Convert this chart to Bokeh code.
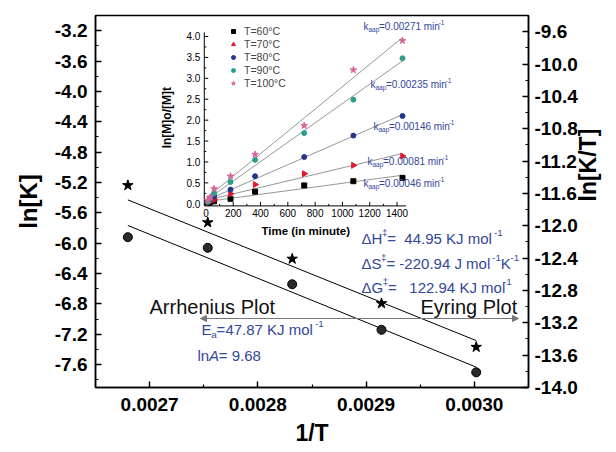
import math
import numpy as np
from bokeh.plotting import figure
from bokeh.models import (Range1d, LinearAxis, FixedTicker, PrintfTickFormatter, Label,
                          Arrow, NormalHead, Legend, LegendItem)
from bokeh.core.properties import value
from bokeh.embed import file_html
from bokeh.resources import INLINE

# ---------------- data (main plot) ----------------
inv_T = [0.0026799, 0.0027537, 0.0028317, 0.0029142, 0.0030017]
ln_K = [-5.92, -6.06, -6.54, -7.14, -7.70]          # Arrhenius (left axis)
ln_K_T = [-11.50, -11.96, -12.41, -12.96, -13.50]   # Eyring (right axis)
eyring_fit_ends = [-11.68, -13.42]                  # drawn Eyring fit line at first/last 1/T

x_ticks = [0.0027, 0.0028, 0.0029, 0.0030]
x_minor = [0.00265, 0.00275, 0.00285, 0.00295, 0.00305]
left_ticks = [-3.2, -3.6, -4.0, -4.4, -4.8, -5.2, -5.6, -6.0, -6.4, -6.8, -7.2, -7.6]
left_minor = [-3.4, -3.8, -4.2, -4.6, -5.0, -5.4, -5.8, -6.2, -6.6, -7.0, -7.4, -7.8]
right_ticks = [-9.6, -10.0, -10.4, -10.8, -11.2, -11.6, -12.0, -12.4, -12.8, -13.2, -13.6, -14.0]
right_minor = [-9.8, -10.2, -10.6, -11.0, -11.4, -11.8, -12.2, -12.6, -13.0, -13.4, -13.8]

# ---------------- data (inset) ----------------
time_min = [15, 30, 60, 180, 360, 720, 1080, 1440]
ln_60 = [0.02, 0.03, 0.06, 0.12, 0.29, 0.44, 0.54, 0.62]
ln_70 = [0.03, 0.06, 0.10, 0.24, 0.46, 0.72, 0.92, 1.14]
ln_80 = [0.04, 0.10, 0.18, 0.34, 0.66, 1.12, 1.63, 2.10]
ln_90 = [0.05, 0.12, 0.25, 0.52, 1.05, 1.69, 2.49, 3.48]
ln_100 = [0.08, 0.16, 0.36, 0.66, 1.18, 1.87, 3.20, 3.90]
series_labels = ["T=60°C", "T=70°C", "T=80°C", "T=90°C", "T=100°C"]
k_labels = ["0.00046", "0.00081", "0.00146", "0.00235", "0.00271"]
inset_y_ticks = [0.0, 0.5, 1.0, 1.5, 2.0, 2.5, 3.0, 3.5, 4.0]
inset_y_minor = [0.25, 0.75, 1.25, 1.75, 2.25, 2.75, 3.25, 3.75]
inset_x_ticks = [0, 200, 400, 600, 800, 1000, 1200, 1400]
inset_x_minor = [100, 300, 500, 700, 900, 1100, 1300]

FONT = "Liberation Sans"
BLUE = "#33479b"
NB = "\u00a0"

# frame in page px: left 95, right 533, top 15, bottom 387
W, H = 616, 452
FL, FR, FT, FB = 95, 533, 15, 387

p = figure(width=W, height=H, output_backend="svg", toolbar_location=None,
           x_range=Range1d(0.00265, 0.00305), y_range=Range1d(-7.9, -3.0),
           min_border_left=FL, min_border_right=W - FR,
           min_border_top=FT, min_border_bottom=H - FB)
p.extra_y_ranges = {"eyr": Range1d(-14.0, -9.4), "ty": Range1d(-4.392, 4.502)}
p.extra_x_ranges = {"tx": Range1d(-809, 2363)}
p.grid.visible = False
p.outline_line_color = "black"
p.outline_line_width = 1.5
p.background_fill_color = "white"
p.border_fill_color = "white"

right = LinearAxis(y_range_name="eyr")
p.add_layout(right, "right")

def style_axis(ax, ticks, minor, fmt, label, standoff, lstandoff, lsize):
    ax.ticker = FixedTicker(ticks=ticks, minor_ticks=minor)
    ax.formatter = PrintfTickFormatter(format=fmt)
    ax.axis_label = label
    ax.axis_label_text_font = FONT
    ax.axis_label_text_font_size = lsize
    ax.axis_label_text_font_style = "bold"
    ax.axis_label_text_color = "black"
    ax.axis_label_standoff = lstandoff
    ax.major_label_text_font = FONT
    ax.major_label_text_font_size = "19px"
    ax.major_label_text_font_style = "bold"
    ax.major_label_text_color = "black"
    ax.major_label_standoff = standoff
    ax.axis_line_width = 1.5
    ax.major_tick_in = 6
    ax.major_tick_out = 0
    ax.minor_tick_in = 3
    ax.minor_tick_out = 0
    ax.major_tick_line_width = 1.5
    ax.minor_tick_line_width = 1.2

style_axis(p.xaxis[0], x_ticks, x_minor, "%.4f", "1/T", 10, 6, "23px")
style_axis(p.yaxis[0], left_ticks, left_minor, "%.1f", "ln[K]", 8, 10, "24px")
style_axis(right, right_ticks, right_minor, "%.1f", "ln[K/T]", 6, 7, "23px")
right.axis_label_orientation = math.pi / 2

# ---------------- main fit lines and markers ----------------
xs_fit = [min(inv_T), max(inv_T)]
a1, b1 = np.polyfit(inv_T, ln_K, 1)
p.line(xs_fit, [a1 * x + b1 for x in xs_fit], line_color="black", line_width=1)
p.line(xs_fit, eyring_fit_ends, line_color="black", line_width=1, y_range_name="eyr")
p.scatter(inv_T, ln_K, marker="circle", size=9, fill_color="#2a2a2a", line_color="black")
p.scatter(inv_T, ln_K_T, marker="star", size=11, fill_color="black", line_color="black",
          y_range_name="eyr")

# ---------------- inset ----------------
IX = dict(x_range_name="tx", y_range_name="ty")
ax_x0, ax_y0 = -12, -0.05
p.segment(x0=[ax_x0], y0=[ax_y0], x1=[ax_x0], y1=[4.1], line_color="black", line_width=1, **IX)
p.segment(x0=[ax_x0], y0=[ax_y0], x1=[1465], y1=[ax_y0], line_color="black", line_width=1, **IX)
p.ray(x=[ax_x0] * len(inset_y_ticks), y=inset_y_ticks, length=4, length_units="screen",
      angle=0, line_color="black", line_width=1, **IX)
p.ray(x=[ax_x0] * len(inset_y_minor), y=inset_y_minor, length=2, length_units="screen",
      angle=0, line_color="black", line_width=1, **IX)
p.ray(x=inset_x_ticks, y=[ax_y0] * len(inset_x_ticks), length=4, length_units="screen",
      angle=math.pi / 2, line_color="black", line_width=1, **IX)
p.ray(x=inset_x_minor, y=[ax_y0] * len(inset_x_minor), length=2, length_units="screen",
      angle=math.pi / 2, line_color="black", line_width=1, **IX)
p.text(x=[ax_x0] * len(inset_y_ticks), y=inset_y_ticks, text=[f"{v:.1f}" for v in inset_y_ticks],
       x_offset=-4, text_align="right", text_baseline="middle", text_font=value(FONT),
       text_font_size="10px", text_color="black", **IX)
p.text(x=inset_x_ticks, y=[ax_y0] * len(inset_x_ticks), text=[str(v) for v in inset_x_ticks],
       y_offset=3, text_align="center", text_baseline="top", text_font=value(FONT),
       text_font_size="10px", text_color="black", **IX)
p.text(x=[731], y=[ax_y0], text=["Time (in minute)"], y_offset=25, text_align="center",
       text_baseline="middle", text_font=value(FONT), text_font_size="11.5px",
       text_font_style="bold", text_color="black", **IX)
p.text(x=[ax_x0], y=[2.06], text=["ln[M]o/[M]t"], x_offset=-37, angle=math.pi / 2,
       text_align="center", text_baseline="middle", text_font=value(FONT),
       text_font_size="12px", text_font_style="bold", text_color="black", **IX)

series = [ln_60, ln_70, ln_80, ln_90, ln_100]
styles = [
    dict(marker="square", size=5, fill_color="black", line_color="black"),
    dict(marker="triangle", size=6, angle=-math.pi / 2, fill_color="#e3172b", line_color="#e3172b"),
    dict(marker="circle", size=5, fill_color="#25358a", line_color="#25358a"),
    dict(marker="circle", size=5, fill_color="#2d9d8c", line_color="#2d9d8c"),
    dict(marker="star", size=7, fill_color="#d6669c", line_color="#d6669c"),
]
t_line = [0, max(time_min)]
renderers = []
for ys, st in zip(series, styles):
    a, b = np.polyfit(time_min, ys, 1)
    p.line(t_line, [a * t + b for t in t_line], line_color="#8a8a8a", line_width=0.9, **IX)
for ys, st in zip(series, styles):
    renderers.append(p.scatter(time_min, ys, **st, **IX))

legend = Legend(items=[LegendItem(label=l, renderers=[r]) for l, r in zip(series_labels, renderers)],
                location=(133, 298), border_line_color=None, background_fill_alpha=0,
                label_text_font=FONT, label_text_font_size="10.5px", glyph_width=10,
                glyph_height=10, label_height=10, spacing=1, padding=0, margin=0,
                label_standoff=6)
p.add_layout(legend)

# ---------------- rich text helper ----------------
W_REG = {'0': .556, '1': .556, '2': .556, '3': .556, '4': .556, '5': .556, '6': .556,
         '7': .556, '8': .556, '9': .556, '.': .278, ' ': .278, NB: .278, '=': .584, '-': .333,
         'k': .5, 'a': .556, 'p': .556, 'm': .833, 'i': .222, 'n': .556, 'K': .667,
         'J': .5, 'o': .556, 'l': .222, 'Δ': .668, 'H': .722, 'S': .667, 'G': .778,
         '‡': .556, 'E': .667, 'A': .667}

def tw(s, fs):
    return sum(W_REG.get(c, .556) for c in s) * fs * 0.98

def rich(px, py, parts, size, color=BLUE):
    x = px - FL
    y = FB - py
    for txt, kind in parts:
        fs = size if kind in ("n", "i") else size * 0.65
        dy = 0
        if kind == "sup":
            dy = size * 0.38
        elif kind == "sub":
            dy = -size * 0.32
        p.add_layout(Label(x=x, y=y + dy, x_units="screen", y_units="screen", text=txt,
                           text_font=FONT, text_font_size=f"{fs:.1f}px",
                           text_font_style="italic" if kind == "i" else "normal",
                           text_color=color, text_align="left", text_baseline="middle"))
        x += tw(txt, fs)

# inset rate-constant labels
k_pos = [(363, 183), (367, 161), (373, 126), (370, 84), (363, 26)]
for (px, py), k in zip(k_pos, k_labels):
    rich(px, py, [("k", "n"), ("aap", "sub"), ("=" + k + " min", "n"), ("-1", "sup")], 10)

# thermodynamic annotations
rich(361, 238, [("ΔH", "n"), ("‡", "sup"), (" =" + NB + " 44.95 KJ mol", "n"), ("-1", "sup")], 15)
rich(361, 263, [("ΔS", "n"), ("‡", "sup"), (" = -220.94 J mol", "n"), ("-1", "sup"),
                ("K", "n"), ("-1", "sup")], 15)
rich(361, 287, [("ΔG", "n"), ("‡", "sup"), ("=" + NB + NB + " 122.94 KJ mol", "n"), ("-1", "sup")], 15)
rich(201, 329, [("E", "n"), ("a", "sub"), (" =47.87 KJ mol", "n"), ("-1", "sup")], 15)
rich(197, 355, [("ln", "n"), ("A", "i"), ("= 9.68", "n")], 15)

for txt, px in [("Arrhenius Plot", 149), ("Eyring Plot", 420)]:
    p.add_layout(Label(x=px - FL, y=FB - 306, x_units="screen", y_units="screen", text=txt,
                       text_font=FONT, text_font_size="20px", text_color="#111111",
                       text_align="left", text_baseline="middle"))

p.add_layout(Arrow(x_start=200 - FL, y_start=FB - 318, x_end=518 - FL, y_end=FB - 318,
                   start_units="screen", end_units="screen", line_color="#777777", line_width=1,
                   start=NormalHead(size=6, fill_color="#777777", line_color="#777777"),
                   end=NormalHead(size=6, fill_color="#777777", line_color="#777777")))

open("out.html", "w").write(file_html(p, INLINE))
